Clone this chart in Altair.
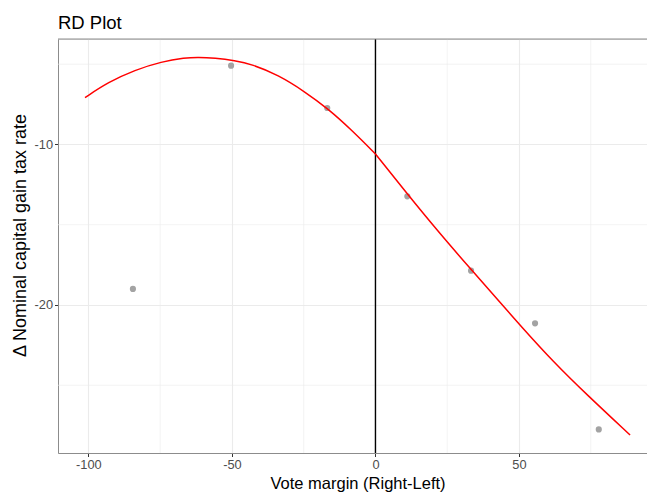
import altair as alt
import pandas as pd

# Binned means (grey points)
bin_x = [-84.5, -50.3, -16.8, 11.1, 33.3, 55.6, 77.8]
bin_y = [-19.0, -5.09, -7.73, -13.23, -17.86, -21.14, -27.75]

# Fitted polynomial, left and right of the cutoff
fit_left_x = [-101.2, -93.1, -83.8, -74.5, -66.4, -61.7, -56.0, -49.0, -43.1, -33.9, -24.6, -16.4, -8.3, 0.0]
fit_left_y = [-7.08, -6.12, -5.36, -4.84, -4.60, -4.56, -4.62, -4.78, -5.00, -5.67, -6.71, -7.79, -9.10, -10.59]
fit_right_x = [0.0, 10.9, 21.3, 32.9, 44.5, 50.3, 62.0, 73.6, 88.7]
fit_right_y = [-10.59, -13.04, -15.31, -17.71, -20.06, -21.24, -23.55, -25.58, -28.10]

cutoff = [0]
x_major = [-100, -50, 0, 50]
x_minor = [-75, -25, 25, 75]
y_major = [-10, -20]
y_minor = [-5, -15, -25]

X_DOMAIN = [-110.6, 94.6]
Y_DOMAIN = [-29.22, -3.43]
W, H = 589, 414
FONT = "Liberation Sans"

pts = pd.DataFrame({"x": bin_x, "y": bin_y})
fit = pd.DataFrame({
    "x": fit_left_x + fit_right_x,
    "y": fit_left_y + fit_right_y,
    "side": ["left"] * len(fit_left_x) + ["right"] * len(fit_right_x),
})
vminor = pd.DataFrame({"x": x_minor})
hminor = pd.DataFrame({"y": y_minor})
cut = pd.DataFrame({"x": cutoff})

xs = alt.Scale(domain=X_DOMAIN, nice=False, zero=False)
ys = alt.Scale(domain=Y_DOMAIN, nice=False, zero=False)

xaxis = alt.Axis(values=x_major, title="Vote margin (Right-Left)", grid=True,
                 labelExpr="'' + datum.value",
                 gridColor="#EBEBEB", gridWidth=1.1,
                 domainColor="#8c8c8c", domainWidth=1,
                 tickColor="#333333", tickSize=3.5, tickWidth=1,
                 labelColor="#4d4d4d", labelFont=FONT, labelFontSize=12.8,
                 labelPadding=2, titleFont=FONT, titleFontSize=16.5,
                 titleFontWeight="normal", titleColor="black", titlePadding=4,
                 titleX=299.5)
yaxis = alt.Axis(values=y_major, title="Δ Nominal capital gain tax rate", grid=True,
                 labelExpr="'' + datum.value",
                 gridColor="#EBEBEB", gridWidth=1.1,
                 domainColor="#8c8c8c", domainWidth=1,
                 tickColor="#333333", tickSize=3.5, tickWidth=1,
                 labelColor="#4d4d4d", labelFont=FONT, labelFontSize=12.8,
                 labelPadding=2, titleFont=FONT, titleFontSize=18,
                 titleFontWeight="normal", titleColor="black", titlePadding=5,
                 titleY=196)

vgrid = alt.Chart(vminor).mark_rule(color="#EBEBEB", strokeWidth=0.6).encode(
    x=alt.X("x:Q", scale=xs, axis=xaxis)
)
hgrid = alt.Chart(hminor).mark_rule(color="#EBEBEB", strokeWidth=0.6).encode(
    y=alt.Y("y:Q", scale=ys, axis=yaxis)
)
points = alt.Chart(pts).mark_circle(color="#a3a3a3", opacity=1, size=38).encode(
    x=alt.X("x:Q", scale=xs, axis=xaxis),
    y=alt.Y("y:Q", scale=ys, axis=yaxis),
)
cutline = alt.Chart(cut).mark_rule(color="black", strokeWidth=1.4).encode(
    x=alt.X("x:Q", scale=xs, axis=xaxis)
)
line = alt.Chart(fit).mark_line(color="#ff0000", strokeWidth=1.5, interpolate="basis").encode(
    x=alt.X("x:Q", scale=xs, axis=xaxis),
    y=alt.Y("y:Q", scale=ys, axis=yaxis),
    detail="side:N",
)
topborder = alt.Chart(pd.DataFrame({"a": [0]})).mark_rule(color="#8c8c8c", strokeWidth=1).encode(
    x=alt.value(0), x2=alt.value(W), y=alt.value(0)
)

chart = alt.layer(vgrid, hgrid, points, cutline, line, topborder).properties(
    width=W, height=H,
    title=alt.TitleParams("RD Plot", anchor="start", frame="group", fontSize=18.5,
                          font=FONT, fontWeight="normal", color="black",
                          baseline="alphabetic", offset=12, dy=21),
    autosize=alt.AutoSizeParams(type="none"),
    padding={"left": 58, "top": 39, "right": 0, "bottom": 41},
).configure_view(stroke=None).configure(background="white")

chart.save("out.html", embed_options={"renderer": "svg", "actions": False})
